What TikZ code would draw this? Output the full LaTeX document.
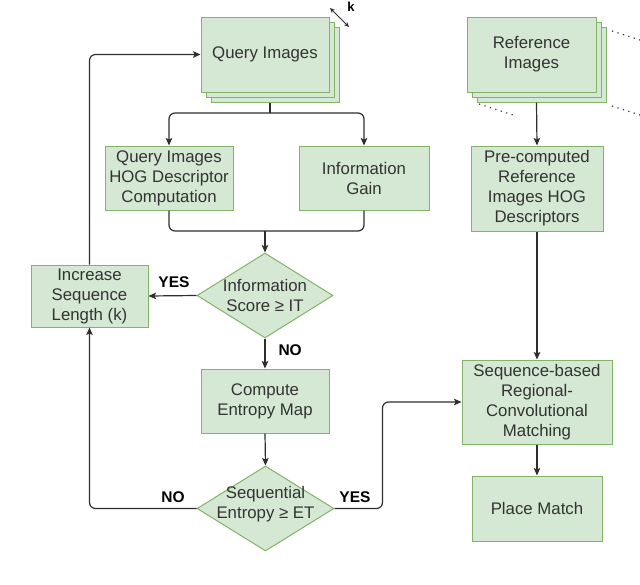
\documentclass[tikz,border=0pt]{standalone}
\usepackage{fontspec}
\setmainfont{Liberation Sans}
\usepackage{tikz}
\usepackage{xcolor}
\usetikzlibrary{arrows.meta, shapes.geometric, shadows, calc, positioning}

\definecolor{boxfill}{HTML}{D5E8D4}
\definecolor{boxline}{HTML}{82B366}
\definecolor{ink}{HTML}{333333}

\begin{document}
\begin{tikzpicture}[x=1pt, y=-1pt, >={Stealth[length=7.5pt, width=6.5pt, inset=1.5pt]},
    every node/.style={font=\fontsize{16.8}{20}\selectfont, text=ink},
    block/.style={draw=boxline, fill=boxfill, line width=1pt, inner sep=0pt, align=center},
    decision/.style={diamond, draw=boxline, fill=boxfill, line width=1pt, inner sep=0pt},
    stack/.style={general shadow={shadow xshift=10pt, shadow yshift=-10pt, draw=boxline, fill=boxfill, line width=1pt},
                  general shadow={shadow xshift=5pt, shadow yshift=-5pt, draw=boxline, fill=boxfill, line width=1pt}},
    answer/.style={font=\bfseries\fontsize{15.5}{18}\selectfont, text=black},
    flow/.style={draw=ink!90!black, line width=1.2pt}]

    \useasboundingbox (0, 0) rectangle (640, 584);

    \node[block, stack, minimum width=128pt, minimum height=75pt] (qimg) at (265, 54.5) {Query Images};
    \node[block, stack, minimum width=129pt, minimum height=75pt] (refimg) at (531.5, 54.5) {Reference\\Images};

    \node[block, minimum width=128pt, minimum height=64pt] (qhog) at (169, 178) {Query Images\\HOG Descriptor\\Computation};
    \node[block, minimum width=130pt, minimum height=64pt] (gain) at (364, 178) {Information\\Gain};
    \node[block, minimum width=132pt, minimum height=85pt] (precomp) at (537, 188.5) {Pre-computed\\Reference\\Images HOG\\Descriptors};

    \node[decision, minimum width=136pt, minimum height=85pt,
          label={[align=center]center:Information\\Score ≥ IT}] (score) at (265, 295.5) {};
    \node[block, minimum width=117pt, minimum height=62pt] (incr) at (89.5, 296) {Increase\\Sequence\\Length (k)};

    \node[block, minimum width=128pt, minimum height=64pt] (entropy) at (265, 401) {Compute\\Entropy Map};
    \node[decision, minimum width=137pt, minimum height=85pt,
          label={[align=center, yshift=4pt]center:Sequential\\Entropy ≥ ET}] (seq) at (265.5, 508.5) {};

    \node[block, minimum width=150pt, minimum height=84pt] (match) at (537, 402) {Sequence-based\\Regional-\\Convolutional\\Matching};
    \node[block, minimum width=130pt, minimum height=65pt] (place) at (537, 508.5) {Place Match};

    % k marker
    \coordinate (k1) at (330, 8);
    \coordinate (k2) at (349, 27);
    \draw[flow, line width=0.9pt, {Stealth[length=5pt, width=4.5pt]}-{Stealth[length=5pt, width=4.5pt]}] (k1) -- (k2);
    \node[answer, font=\bfseries\fontsize{13}{15}\selectfont] (k) at (351, 7) {k};

    % dots behind the reference stack
    \coordinate (d1) at (612, 31);
    \coordinate (d2) at (640, 40);
    \coordinate (d3) at (612, 106);
    \coordinate (d4) at (640, 115);
    \coordinate (d5) at (479, 104);
    \coordinate (d6) at (513, 115);
    \draw[ink, line width=1.2pt, dash pattern=on 1.2pt off 4.5pt] (d1) -- (d2) (d3) -- (d4) (d5) -- (d6);

    % split and merge
    \coordinate (split) at (270, 113);
    \coordinate (merge) at (265, 231);
    \draw[flow] ($(qimg.south)+(5, 10)$) -- (split);
    \draw[flow, ->, rounded corners=6pt] (split) -| (qhog.north);
    \draw[flow, ->, rounded corners=6pt] (split) -| (gain.north);
    \draw[flow, rounded corners=6pt] (qhog.south) |- (merge);
    \draw[flow, rounded corners=6pt] (gain.south) |- (merge);
    \draw[flow, ->] (merge) -- (score.north);

    % decisions
    \draw[flow, ->] (score.west) -- (incr.east);
    \node[answer] (yes1) at (174, 282) {YES};
    \draw[flow, ->] (score.south) -- (entropy.north);
    \node[answer, anchor=west] (no1) at (275, 350) {NO};
    \draw[flow, ->] (entropy.south) -- (seq.north);
    \draw[flow, ->, rounded corners=6pt] (seq.west) -| (incr.south);
    \node[answer] (no2) at (173, 497) {NO};
    \draw[flow, ->, rounded corners=6pt] (seq.east) -- ++(48, 0) |- (match.west);
    \node[answer] (yes2) at (355, 497) {YES};
    \draw[flow, ->, rounded corners=6pt] (incr.north) |- (qimg.west);

    % reference side
    \draw[flow, ->] ($(refimg.south)+(5, 10)$) -- (precomp.north);
    \draw[flow, ->] (precomp.south) -- (match.north);
    \draw[flow, ->] (match.south) -- (place.north);
\end{tikzpicture}
\end{document}
